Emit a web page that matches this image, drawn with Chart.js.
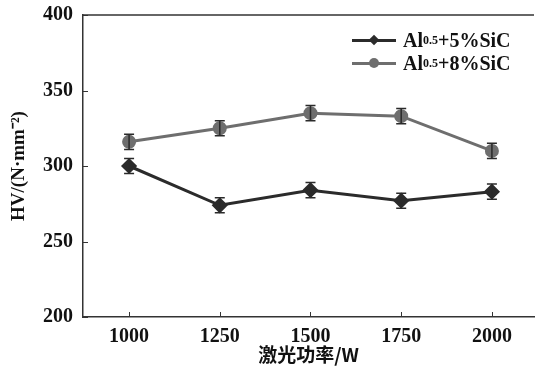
<!DOCTYPE html>
<html>
<head>
<meta charset="utf-8">
<script src="https://cdn.jsdelivr.net/npm/chart.js@4"></script>
<style>
  body { margin: 0; background: #fff; }
  #wrap { position: relative; width: 535px; height: 372px; }
  #legend { position: absolute; left: 352px; top: 29px; font: bold 20px "Liberation Serif", serif; color: #111; }
  .row { display: flex; align-items: center; height: 23px; }
  .swatch { position: relative; width: 44px; height: 3px; margin-right: 7px; }
  .mk { position: absolute; left: 17px; top: -4px; width: 10px; height: 10px; }
  sub { font-size: 12px; vertical-align: -3px; }
</style>
</head>
<body>
<div id="wrap">
  <canvas id="chart" width="535" height="372"></canvas>
  <div id="legend">
    <div class="row"><span class="swatch" style="background:#2b2b2b"><span class="mk" style="background:#2b2b2b;transform:rotate(45deg) scale(0.75)"></span></span>Al<sub>0.5</sub>+5%SiC</div>
    <div class="row"><span class="swatch" style="background:#6e6e6e"><span class="mk" style="background:#6e6e6e;border-radius:50%"></span></span>Al<sub>0.5</sub>+8%SiC</div>
  </div>
</div>
<script>
// laser power (W)
var powers = [1000, 1250, 1500, 1750, 2000];
var hv5 = [300, 274, 284, 277, 283];
var hv8 = [316, 325, 335, 333, 310];
var err5 = [5, 5, 5, 5, 5];
var err8 = [5, 5, 5, 5, 5];
var yTicks = [200, 250, 300, 350, 400];

function pts(vals) {
  return powers.map(function(p, i) { return { x: p, y: vals[i] }; });
}

var serif = '"Liberation Serif", serif';

// error bars + inward ticks
var extras = {
  id: 'extras',
  afterDatasetsDraw: function(chart) {
    var ctx = chart.ctx;
    var xs = chart.scales.x, ys = chart.scales.y;
    var sets = [[hv5, err5], [hv8, err8]];
    ctx.save();
    ctx.strokeStyle = '#2a2a2a';
    ctx.lineWidth = 1.5;
    sets.forEach(function(s) {
      powers.forEach(function(p, i) {
        var x = xs.getPixelForValue(p);
        var y1 = ys.getPixelForValue(s[0][i] + s[1][i]);
        var y2 = ys.getPixelForValue(s[0][i] - s[1][i]);
        ctx.beginPath();
        ctx.moveTo(x, y1); ctx.lineTo(x, y2);
        ctx.moveTo(x - 5, y1); ctx.lineTo(x + 5, y1);
        ctx.moveTo(x - 5, y2); ctx.lineTo(x + 5, y2);
        ctx.stroke();
      });
    });
    // tick marks pointing into the plot
    ctx.lineWidth = 1;
    ctx.strokeStyle = '#333';
    var a = chart.chartArea;
    powers.forEach(function(p) {
      var x = Math.round(xs.getPixelForValue(p)) + 0.5;
      ctx.beginPath(); ctx.moveTo(x, a.bottom); ctx.lineTo(x, a.bottom - 5); ctx.stroke();
    });
    yTicks.forEach(function(v) {
      var y = Math.round(ys.getPixelForValue(v)) + 0.5;
      ctx.beginPath(); ctx.moveTo(a.left, y); ctx.lineTo(a.left + 5, y); ctx.stroke();
    });
    // top frame line
    ctx.lineWidth = 1.5;
    ctx.beginPath(); ctx.moveTo(a.left, a.top); ctx.lineTo(a.right, a.top); ctx.stroke();
    ctx.restore();
  }
};

new Chart(document.getElementById('chart').getContext('2d'), {
  type: 'line',
  data: {
    datasets: [{
      label: 'Al0.5+5%SiC',
      data: pts(hv5),
      borderColor: '#2b2b2b',
      backgroundColor: '#2b2b2b',
      borderWidth: 3,
      pointStyle: 'rectRot',
      pointRadius: 6,
      tension: 0
    }, {
      label: 'Al0.5+8%SiC',
      data: pts(hv8),
      borderColor: '#6e6e6e',
      backgroundColor: '#6e6e6e',
      borderWidth: 3,
      pointStyle: 'circle',
      pointRadius: 5.5,
      tension: 0
    }]
  },
  options: {
    responsive: false,
    animation: false,
    layout: { autoPadding: false, padding: { top: 15, right: 1, bottom: 6, left: 0 } },
    plugins: { legend: { display: false }, tooltip: { enabled: false } },
    scales: {
      x: {
        type: 'linear',
        min: 873, max: 2116,
        afterBuildTicks: function(s) { s.ticks = powers.map(function(v) { return { value: v }; }); },
        afterFit: function(s) { s.height = 49; s.paddingLeft = 0; s.paddingRight = 0; },
        grid: { display: false, drawTicks: false },
        border: { color: '#333', width: 1.5 },
        ticks: { color: '#111', padding: 8, maxRotation: 0,
                 callback: function(v) { return String(v); },
                 font: { family: serif, size: 20, weight: 'bold' } },
        title: { display: true, text: '激光功率/W', color: '#111', padding: 0,
                 font: { family: '"Noto Sans CJK SC", sans-serif', size: 19, weight: 'bold' } }
      },
      y: {
        min: 200, max: 400,
        afterBuildTicks: function(s) { s.ticks = yTicks.map(function(v) { return { value: v }; }); },
        afterFit: function(s) { s.width = 83; s.paddingTop = 0; s.paddingBottom = 0; },
        grid: { display: false, drawTicks: false },
        border: { color: '#333', width: 1.5 },
        ticks: { color: '#111', padding: 10, callback: function(v) { return String(v); },
                 font: { family: serif, size: 20, weight: 'bold' } },
        title: { display: true, text: 'HV/(N·mm⁻²)', color: '#111', padding: { top: 8, bottom: 0 },
                 font: { family: serif, size: 19, weight: 'bold' } }
      }
    }
  },
  plugins: [extras]
});
</script>
</body>
</html>
